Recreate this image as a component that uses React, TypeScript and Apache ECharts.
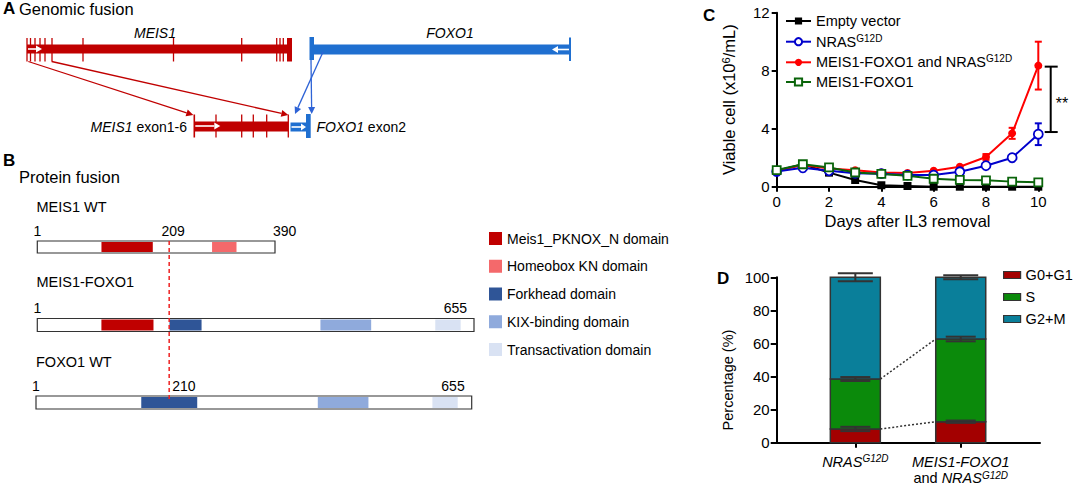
import React, { useEffect, useRef } from 'react';
import * as echarts from 'echarts';

const FONT = "'Liberation Sans', Arial, Helvetica, sans-serif";

// ---------- Panel A: genomic fusion (schematic units) ----------
const geneRow = 1;
const fusionRow = 0;
const meis1Gene = [27, 292];
const meis1Exons = [27, 30.5, 35, 40, 45, 52, 83, 173.5, 241.7, 276.7, 280, 283.3];
const meis1EndBlock = [287, 292];
const foxo1Gene = [310, 570];
const foxo1ExonBlock = [309.5, 314];
const fusionMeis = [194.3, 288.3];
const fusionMeisExons = [194.3, 216, 241.7, 253.3, 266.7, 288.3];
const fusionFoxo = [290.5, 306];
const fusionFoxoBlock = [306, 310.7];
const redLinks = [[28.3, 193.3], [51.7, 288.3]];
const blueLinks = [[323, 295], [311, 311.7]];

// ---------- Panel B: protein fusion (amino acids) ----------
const domainNames = ['Meis1_PKNOX_N domain', 'Homeobox KN domain', 'Forkhead domain', 'KIX-binding domain', 'Transactivation domain'];
const meis1WtLength = 390;
const fusionLength = 655;
const foxo1WtLength = 655;
const meis1WtTicks = [1, 209, 390];
const fusionTicks = [1, 655];
const foxo1WtTicks = [1, 210, 655];
const meis1WtDomains = [[0, 106, 190], [1, 287, 327]];
const fusionDomains = [[0, 97, 175], [2, 199, 247], [3, 425, 501], [4, 597, 635]];
const foxo1WtDomains = [[2, 159, 243], [3, 424, 500], [4, 596, 634]];
const fusionBreakpoint = 198.5;

// ---------- Panel C: viable cells ----------
const days = [0, 1, 2, 3, 4, 5, 6, 7, 8, 9, 10];
const emptyVector = [1.1, 1.55, 0.97, 0.46, 0.1, 0.05, 0, 0, 0, 0, 0];
const nras = [1.05, 1.3, 1.1, 0.92, 0.9, 0.8, 0.8, 1.03, 1.45, 2.0, 3.62];
const nrasErr = [0, 0, 0, 0, 0, 0, 0, 0, 0, 0, 0.75];
const meisNras = [1.1, 1.5, 1.26, 1.13, 0.98, 0.95, 1.1, 1.38, 2.05, 3.68, 8.35];
const meisNrasErr = [0, 0, 0, 0, 0, 0, 0, 0, 0.2, 0.38, 1.65];
const meisFoxo = [1.15, 1.55, 1.33, 0.98, 0.88, 0.75, 0.55, 0.47, 0.44, 0.35, 0.3];
const sigBracket = [10, 8.28, 3.77];
const cSeriesNames = ['Empty vector', 'NRASG12D', 'MEIS1-FOXO1 and NRASG12D', 'MEIS1-FOXO1'];

// ---------- Panel D: cell cycle ----------
const cycleX = [0, 1];
const cycleNames = ['G0+G1', 'S', 'G2+M'];
const g0g1 = [8.3, 12.7];
const sPhase = [30.2, 50.0];
const g2m = [61.5, 37.3];
const g0g1Err = [1.3, 0.7];
const sErr = [1.2, 1.4];
const g2mErr = [2.4, 1.2];

const RED_A = '#c00000';
const BLUE_A = '#1f6fd0';
const BLUE_LINK = '#2e63d6';
const domainColors = ['#c00000', '#f4696b', '#2f5597', '#8faadc', '#d9e2f3'];
const barColors = ['#a30000', '#0b8a0b', '#0a7f9a'];
const BAR_HALF = 25;

function arrowEls(x1: number, y1: number, x2: number, y2: number, color: string, width: number, headLen: number, headHalf: number) {
  const dx = x2 - x1, dy = y2 - y1;
  const L = Math.hypot(dx, dy);
  const ux = dx / L, uy = dy / L;
  const bx = x2 - ux * headLen, by = y2 - uy * headLen;
  const px = -uy, py = ux;
  return [
    { type: 'line', shape: { x1, y1, x2: bx, y2: by }, style: { stroke: color, lineWidth: width } },
    { type: 'polygon', shape: { points: [[x2, y2], [bx + px * headHalf, by + py * headHalf], [bx - px * headHalf, by - py * headHalf]] }, style: { fill: color } },
  ];
}

const renderPanelA = (params: any, api: any) => {
  const X = (v: number) => api.coord([v, geneRow])[0];
  const gy = api.coord([0, geneRow])[1];
  const fy = api.coord([0, fusionRow])[1];
  const ch: any[] = [];
  const rect = (a: number, b: number, yc: number, h: number, fill: string) =>
    ch.push({ type: 'rect', shape: { x: X(a), y: yc - h / 2, width: X(b) - X(a), height: h }, style: { fill } });
  const vline = (v: number, y1: number, y2: number, stroke: string, w: number) =>
    ch.push({ type: 'line', shape: { x1: X(v), y1, x2: X(v), y2 }, style: { stroke, lineWidth: w } });
  rect(meis1Gene[0], meis1Gene[1], gy, 9, RED_A);
  meis1Exons.forEach((v) => vline(v, gy - 11, gy + 12.5, RED_A, 1.3));
  rect(meis1EndBlock[0], meis1EndBlock[1], gy + 0.75, 23.5, RED_A);
  ch.push(...arrowEls(X(meis1Gene[0]) + 1, gy, X(meis1Gene[0]) + 15, gy, '#fff', 1.6, 6, 3.5));
  rect(foxo1Gene[0], foxo1Gene[1], gy + 0.5, 10, BLUE_A);
  rect(foxo1ExonBlock[0], foxo1ExonBlock[1], gy - 0.5, 23, BLUE_A);
  vline(foxo1Gene[1], gy - 11.5, gy + 12, BLUE_A, 2);
  ch.push(...arrowEls(X(foxo1Gene[1]) - 1, gy + 0.5, X(foxo1Gene[1]) - 18, gy + 0.5, '#fff', 1.6, 6, 3.5));
  rect(fusionMeis[0], fusionMeis[1], fy + 0.5, 10, RED_A);
  fusionMeisExons.forEach((v, i) => vline(v, fy - 11.5, fy + 11.5, RED_A, i === 0 ? 1.6 : 1.3));
  ch.push(...arrowEls(X(fusionMeis[0]) + 1, fy, X(fusionMeis[0]) + 26, fy, '#fff', 1.6, 6, 3.5));
  rect(fusionFoxo[0], fusionFoxo[1], fy + 1, 9, BLUE_A);
  ch.push(...arrowEls(X(fusionFoxo[0]) + 1, fy + 1, X(fusionFoxo[1]), fy + 1, '#fff', 1.6, 5, 3.5));
  rect(fusionFoxoBlock[0], fusionFoxoBlock[1], fy, 24, BLUE_A);
  redLinks.forEach(([a, b]) => ch.push(...arrowEls(X(a), gy + 12.5, X(b), fy - 11, RED_A, 1.3, 7, 3.5)));
  const blueStart = [3, 11];
  blueLinks.forEach(([a, b], i) => ch.push(...arrowEls(X(a), gy + blueStart[i], X(b), fy - 12, BLUE_LINK, 1.3, 7, 3.5)));
  return { type: 'group', children: ch };
};

function makeBoxRender(ticks: number[], rowIdx: number) {
  return (params: any, api: any) => {
    const a = api.coord([api.value(0), 1]);
    const b = api.coord([api.value(1), 0]);
    const children: any[] = [
      { type: 'rect', shape: { x: a[0], y: a[1], width: b[0] - a[0], height: b[1] - a[1] }, style: { fill: '#fff', stroke: '#333', lineWidth: 1.2 } },
    ];
    ticks.forEach((t, i) => {
      const px = api.coord([t, 1])[0];
      let align = 'left';
      let dx = -3;
      if (i === 0) { align = 'center'; dx = 0; }
      else if (i === ticks.length - 1) {
        if (rowIdx === 0) { align = 'left'; dx = -2; } else { align = 'right'; dx = -7; }
      }
      children.push({
        type: 'text',
        style: { text: String(t), x: px + dx, y: a[1] - 10.5, align, verticalAlign: 'middle', fontSize: 14, fontFamily: FONT, fill: '#000' },
      });
    });
    return { type: 'group', children };
  };
}

const renderDomain = (params: any, api: any) => {
  const a = api.coord([api.value(0), 1]);
  const b = api.coord([api.value(1), 0]);
  return { type: 'rect', shape: { x: a[0], y: a[1] + 1, width: b[0] - a[0], height: b[1] - a[1] - 2 }, style: { fill: api.visual('color') } };
};

function makeErrRender(color: string, capHalf: number, width: number) {
  return (params: any, api: any) => {
    const x = api.value(0), v = api.value(1), e = api.value(2);
    const t = api.coord([x, v + e]);
    const b = api.coord([x, v - e]);
    const st = { stroke: color, lineWidth: width };
    return {
      type: 'group',
      children: [
        { type: 'line', shape: { x1: t[0], y1: t[1], x2: b[0], y2: b[1] }, style: st },
        { type: 'line', shape: { x1: t[0] - capHalf, y1: t[1], x2: t[0] + capHalf, y2: t[1] }, style: st },
        { type: 'line', shape: { x1: b[0] - capHalf, y1: b[1], x2: b[0] + capHalf, y2: b[1] }, style: st },
      ],
    };
  };
}

const renderStackBar = (params: any, api: any) => {
  const x = api.value(0);
  const top = api.coord([x, api.value(2)]);
  const bot = api.coord([x, api.value(1)]);
  return {
    type: 'rect',
    shape: { x: top[0] - BAR_HALF, y: top[1], width: BAR_HALF * 2, height: bot[1] - top[1] },
    style: { fill: api.visual('color'), stroke: '#333', lineWidth: 1.5 },
  };
};

const renderBracket = (params: any, api: any) => {
  const t = api.coord([api.value(0), api.value(1)]);
  const b = api.coord([api.value(0), api.value(2)]);
  const vx = t[0] + 12.4;
  const st = { stroke: '#000', lineWidth: 2 };
  return {
    type: 'group',
    children: [
      { type: 'line', shape: { x1: vx, y1: t[1], x2: vx, y2: b[1] }, style: st },
      { type: 'line', shape: { x1: vx - 6, y1: t[1], x2: vx + 7, y2: t[1] }, style: st },
      { type: 'line', shape: { x1: vx - 6, y1: b[1], x2: vx + 7, y2: b[1] }, style: st },
      { type: 'text', style: { text: '**', x: vx + 5, y: (t[1] + b[1]) / 2 + 4, align: 'left', verticalAlign: 'middle', fontSize: 16, fontFamily: FONT, fill: '#000' } },
    ],
  };
};

const renderConnector = (params: any, api: any) => {
  const p0 = api.coord([api.value(0), api.value(1)]);
  const p1 = api.coord([api.value(2), api.value(3)]);
  return {
    type: 'line',
    shape: { x1: p0[0] + BAR_HALF, y1: p0[1], x2: p1[0] - BAR_HALF, y2: p1[1] },
    style: { stroke: '#333', lineWidth: 1.5, lineDash: [2, 2] },
  };
};

function buildOption() {
  const hiddenX = (gridIndex: number, min: number, max: number) => ({ type: 'value', gridIndex, min, max, show: false });
  const hiddenY = (gridIndex: number) => ({ type: 'value', gridIndex, min: 0, max: 1, show: false });
  const axisLineStyle = { show: true, onZero: false, lineStyle: { color: '#000', width: 2 } };
  const axisTickStyle = { show: true, length: 5, lineStyle: { color: '#000', width: 2 } };
  const supRich = { sup: { fontSize: 10, fontFamily: FONT, color: '#000', verticalAlign: 'top', lineHeight: 11 } };

  const series: any[] = [];
  series.push({ type: 'custom', xAxisIndex: 0, yAxisIndex: 0, clip: false, silent: true, data: [[0, 0]], renderItem: renderPanelA });
  const rows = [
    { length: meis1WtLength, ticks: meis1WtTicks, domains: meis1WtDomains },
    { length: fusionLength, ticks: fusionTicks, domains: fusionDomains },
    { length: foxo1WtLength, ticks: foxo1WtTicks, domains: foxo1WtDomains },
  ];
  rows.forEach((r, i) => {
    const idx = i + 1;
    series.push({
      type: 'custom', xAxisIndex: idx, yAxisIndex: idx, clip: false, silent: true, z: 2,
      encode: { x: [0, 1], y: 2 }, data: [[1, r.length, 0.5]], renderItem: makeBoxRender(r.ticks, i),
    });
    r.domains.forEach(([t, s, e]) => {
      series.push({
        type: 'custom', name: domainNames[t], xAxisIndex: idx, yAxisIndex: idx, clip: false, silent: true, z: 3,
        itemStyle: { color: domainColors[t] }, encode: { x: [0, 1], y: 2 }, data: [[s, e, 0.5]], renderItem: renderDomain,
      });
    });
  });
  // Panel C
  const errData = (vals: number[], errs: number[]) => days.map((d, i) => [d, vals[i], errs[i]]).filter((p) => p[2] > 0);
  series.push({ type: 'custom', xAxisIndex: 4, yAxisIndex: 4, silent: true, z: 1, data: errData(meisNras, meisNrasErr), renderItem: makeErrRender('#ff0000', 3.5, 2) });
  series.push({ type: 'custom', xAxisIndex: 4, yAxisIndex: 4, silent: true, z: 1, data: errData(nras, nrasErr), renderItem: makeErrRender('#0000cc', 3.5, 2) });
  const lineSeries = (name: string, vals: number[], symbol: string, size: number, color: string, filled: boolean) => ({
    type: 'line', name, xAxisIndex: 4, yAxisIndex: 4, silent: true, z: 2,
    data: days.map((d, i) => [d, vals[i]]), symbol, symbolSize: size, showAllSymbol: true,
    lineStyle: { color, width: 2 },
    itemStyle: filled ? { color } : { color: '#fff', borderColor: color, borderWidth: 1.8 },
  });
  series.push(lineSeries(cSeriesNames[0], emptyVector, 'rect', 8, '#000', true));
  series.push(lineSeries(cSeriesNames[2], meisNras, 'circle', 8, '#ff0000', true));
  series.push(lineSeries(cSeriesNames[1], nras, 'circle', 9, '#0000cc', false));
  series.push(lineSeries(cSeriesNames[3], meisFoxo, 'rect', 8, '#0a640a', false));
  series.push({ type: 'custom', xAxisIndex: 4, yAxisIndex: 4, clip: false, silent: true, data: [sigBracket], renderItem: renderBracket });
  // Panel D: stacked bars with cumulative bases
  const phases = [g0g1, sPhase, g2m];
  const cum = cycleX.map(() => 0);
  const levels: number[][] = [];
  phases.forEach((vals, k) => {
    const data = cycleX.map((x, i) => {
      const base = cum[i];
      cum[i] = base + vals[i];
      return [x, base, cum[i]];
    });
    levels.push(cycleX.map((x, i) => cum[i]));
    series.push({
      type: 'custom', name: cycleNames[k], xAxisIndex: 5, yAxisIndex: 5, silent: true, z: 3,
      encode: { x: 0, y: [1, 2] }, data,
      itemStyle: { color: barColors[k], borderColor: '#333', borderWidth: 1.5 },
      renderItem: renderStackBar,
    });
  });
  const innerErr = [
    ...cycleX.map((x, i) => [x, levels[0][i], g0g1Err[i]]),
    ...cycleX.map((x, i) => [x, levels[1][i], sErr[i]]),
  ];
  const topErr = cycleX.map((x, i) => [x, levels[2][i], g2mErr[i]]);
  series.push({ type: 'custom', xAxisIndex: 5, yAxisIndex: 5, silent: true, z: 4, clip: false, data: innerErr, renderItem: makeErrRender('#333', 15, 2) });
  series.push({ type: 'custom', xAxisIndex: 5, yAxisIndex: 5, silent: true, z: 4, clip: false, data: topErr, renderItem: makeErrRender('#333', 17.5, 2) });
  series.push({
    type: 'custom', xAxisIndex: 5, yAxisIndex: 5, silent: true, z: 4, clip: false,
    data: [[cycleX[0], levels[0][0], cycleX[1], levels[0][1]], [cycleX[0], levels[1][0], cycleX[1], levels[1][1]]],
    renderItem: renderConnector,
  });

  const cLegendTops = [12.5, 33.2, 53.8, 73.5];
  const legends: any[] = cSeriesNames.map((n, i) => ({
    data: [n], left: 785, top: cLegendTops[i], padding: 0, selectedMode: false,
    itemWidth: 25, itemHeight: 9,
    formatter: (name: string) => name.replace('G12D', '{sup|G12D}'),
    textStyle: { fontSize: 14.5, color: '#000', fontFamily: FONT, lineHeight: 17, rich: supRich },
  }));
  legends.push({
    data: domainNames, orient: 'vertical', left: 489, top: 230.5, padding: 0, selectedMode: false,
    icon: 'rect', itemWidth: 13, itemHeight: 13, itemGap: 11.75,
    textStyle: { fontSize: 14, color: '#000', fontFamily: FONT, lineHeight: 16 },
  });
  legends.push({
    data: cycleNames, orient: 'vertical', left: 1003, top: 267, padding: 0, selectedMode: false,
    icon: 'rect', itemWidth: 17, itemHeight: 7, itemGap: 6,
    itemStyle: { borderColor: '#333', borderWidth: 1.2 },
    textStyle: { fontSize: 14.5, color: '#000', fontFamily: FONT, lineHeight: 16 },
  });

  const dLabelRich = {
    i: { fontStyle: 'italic', fontSize: 14.5, fontFamily: FONT, color: '#000', lineHeight: 16.5 },
    n: { fontSize: 14.5, fontFamily: FONT, color: '#000', lineHeight: 16.5 },
    si: { fontStyle: 'italic', fontSize: 10, fontFamily: FONT, color: '#000', verticalAlign: 'top', lineHeight: 11 },
  };

  return {
    animation: false,
    backgroundColor: '#fff',
    textStyle: { fontFamily: FONT },
    grid: [
      { left: 0, top: 49, width: 600, height: 77 },
      { left: 37.3, top: 241, width: 237.7, height: 12 },
      { left: 37.3, top: 318.5, width: 436.7, height: 13 },
      { left: 36, top: 396, width: 435.7, height: 13 },
      { left: 776.7, top: 12.7, width: 261.6, height: 174 },
      { left: 776.7, top: 277.3, width: 263.3, height: 165.4 },
    ],
    xAxis: [
      hiddenX(0, 0, 600),
      hiddenX(1, 1, meis1WtLength),
      hiddenX(2, 1, fusionLength),
      hiddenX(3, 1, foxo1WtLength),
      {
        type: 'value', gridIndex: 4, min: 0, max: 10, interval: 2,
        axisLine: axisLineStyle, axisTick: axisTickStyle, splitLine: { show: false },
        axisLabel: { color: '#000', fontSize: 15, margin: 7, fontFamily: FONT },
        name: 'Days after IL3 removal', nameLocation: 'middle', nameGap: 26,
        nameTextStyle: { fontSize: 16.5, color: '#000', fontFamily: FONT },
      },
      {
        type: 'value', gridIndex: 5, min: -0.746, max: 1.752,
        axisLine: axisLineStyle, splitLine: { show: false },
        axisTick: { ...axisTickStyle, customValues: cycleX },
        axisLabel: {
          customValues: cycleX, margin: 11, color: '#000',
          formatter: (v: number) => (v === 0 ? '{i|NRAS}{si|G12D}' : '{i|MEIS1-FOXO1}\n{n|and }{i|NRAS}{si|G12D}'),
          rich: dLabelRich, verticalAlign: 'top',
        },
      },
    ],
    yAxis: [
      hiddenY(0), hiddenY(1), hiddenY(2), hiddenY(3),
      {
        type: 'value', gridIndex: 4, min: 0, max: 12, interval: 4,
        axisLine: axisLineStyle, axisTick: axisTickStyle, splitLine: { show: false },
        axisLabel: { color: '#000', fontSize: 15, margin: 7, fontFamily: FONT },
        name: 'Viable cell (x10{sup|6}/mL)', nameLocation: 'middle', nameGap: 39,
        nameTextStyle: {
          fontSize: 16.5, color: '#000', fontFamily: FONT,
          rich: { sup: { fontSize: 11, fontFamily: FONT, color: '#000', verticalAlign: 'top', lineHeight: 12 } },
        },
      },
      {
        type: 'value', gridIndex: 5, min: 0, max: 100, interval: 20,
        axisLine: axisLineStyle, axisTick: { ...axisTickStyle, length: 6 }, splitLine: { show: false },
        axisLabel: { color: '#000', fontSize: 15, margin: 7, fontFamily: FONT },
        name: 'Percentage (%)', nameLocation: 'middle', nameGap: 41,
        nameTextStyle: { fontSize: 14.5, color: '#000', fontFamily: FONT, padding: [0, 40, 0, 0] },
      },
    ],
    legend: legends,
    series,
  };
}

function buildGraphic(chart: any) {
  const t = (text: string, x: number, y: number, opts: any = {}) => ({
    type: 'text', z: 100, silent: true,
    style: { text, x, y, align: 'left', verticalAlign: 'middle', fontSize: 14, fontFamily: FONT, fill: '#000', ...opts },
  });
  const italicRich = { i: { fontStyle: 'italic', fontSize: 14, fontFamily: FONT, fill: '#000' } };
  const bx = chart.convertToPixel({ xAxisIndex: 2 }, fusionBreakpoint);
  const yTop = chart.convertToPixel({ yAxisIndex: 1 }, 1);
  const yBot = chart.convertToPixel({ yAxisIndex: 3 }, 1);
  return [
    t('A', 3, 8.5, { fontSize: 17, fontWeight: 'bold' }),
    t('Genomic fusion', 19, 8.5, { fontSize: 16.5 }),
    t('MEIS1', 155, 33, { fontStyle: 'italic', align: 'center' }),
    t('FOXO1', 450, 33, { fontStyle: 'italic', align: 'center' }),
    t('{i|MEIS1} exon1-6', 187, 126.5, { align: 'right', rich: italicRich }),
    t('{i|FOXO1} exon2', 316.5, 127, { rich: italicRich }),
    t('B', 3, 160, { fontSize: 17, fontWeight: 'bold' }),
    t('Protein fusion', 19, 176.7, { fontSize: 16.5 }),
    t('MEIS1 WT', 36.5, 206.7, { fontSize: 14.5 }),
    t('MEIS1-FOXO1', 36.5, 281.7, { fontSize: 14.5 }),
    t('FOXO1 WT', 36, 361.7, { fontSize: 14.5 }),
    t('C', 703, 15, { fontSize: 17, fontWeight: 'bold' }),
    t('D', 717, 278, { fontSize: 17, fontWeight: 'bold' }),
    {
      type: 'line', z: 100, silent: true,
      shape: { x1: bx, y1: yTop, x2: bx, y2: yBot + 3 },
      style: { stroke: '#ee2222', lineWidth: 1.5, lineDash: [4, 3] },
    },
  ];
}

export default function App() {
  const ref = useRef<HTMLDivElement>(null);
  useEffect(() => {
    if (!ref.current) return;
    const chart = echarts.init(ref.current, null, { renderer: 'svg' });
    chart.setOption(buildOption() as any);
    chart.setOption({ graphic: buildGraphic(chart) } as any);
    return () => chart.dispose();
  }, []);
  return (
    <div
      ref={ref}
      style={{ position: 'fixed', left: 0, top: 0, width: 1074, height: 486, background: '#fff' }}
    />
  );
}
